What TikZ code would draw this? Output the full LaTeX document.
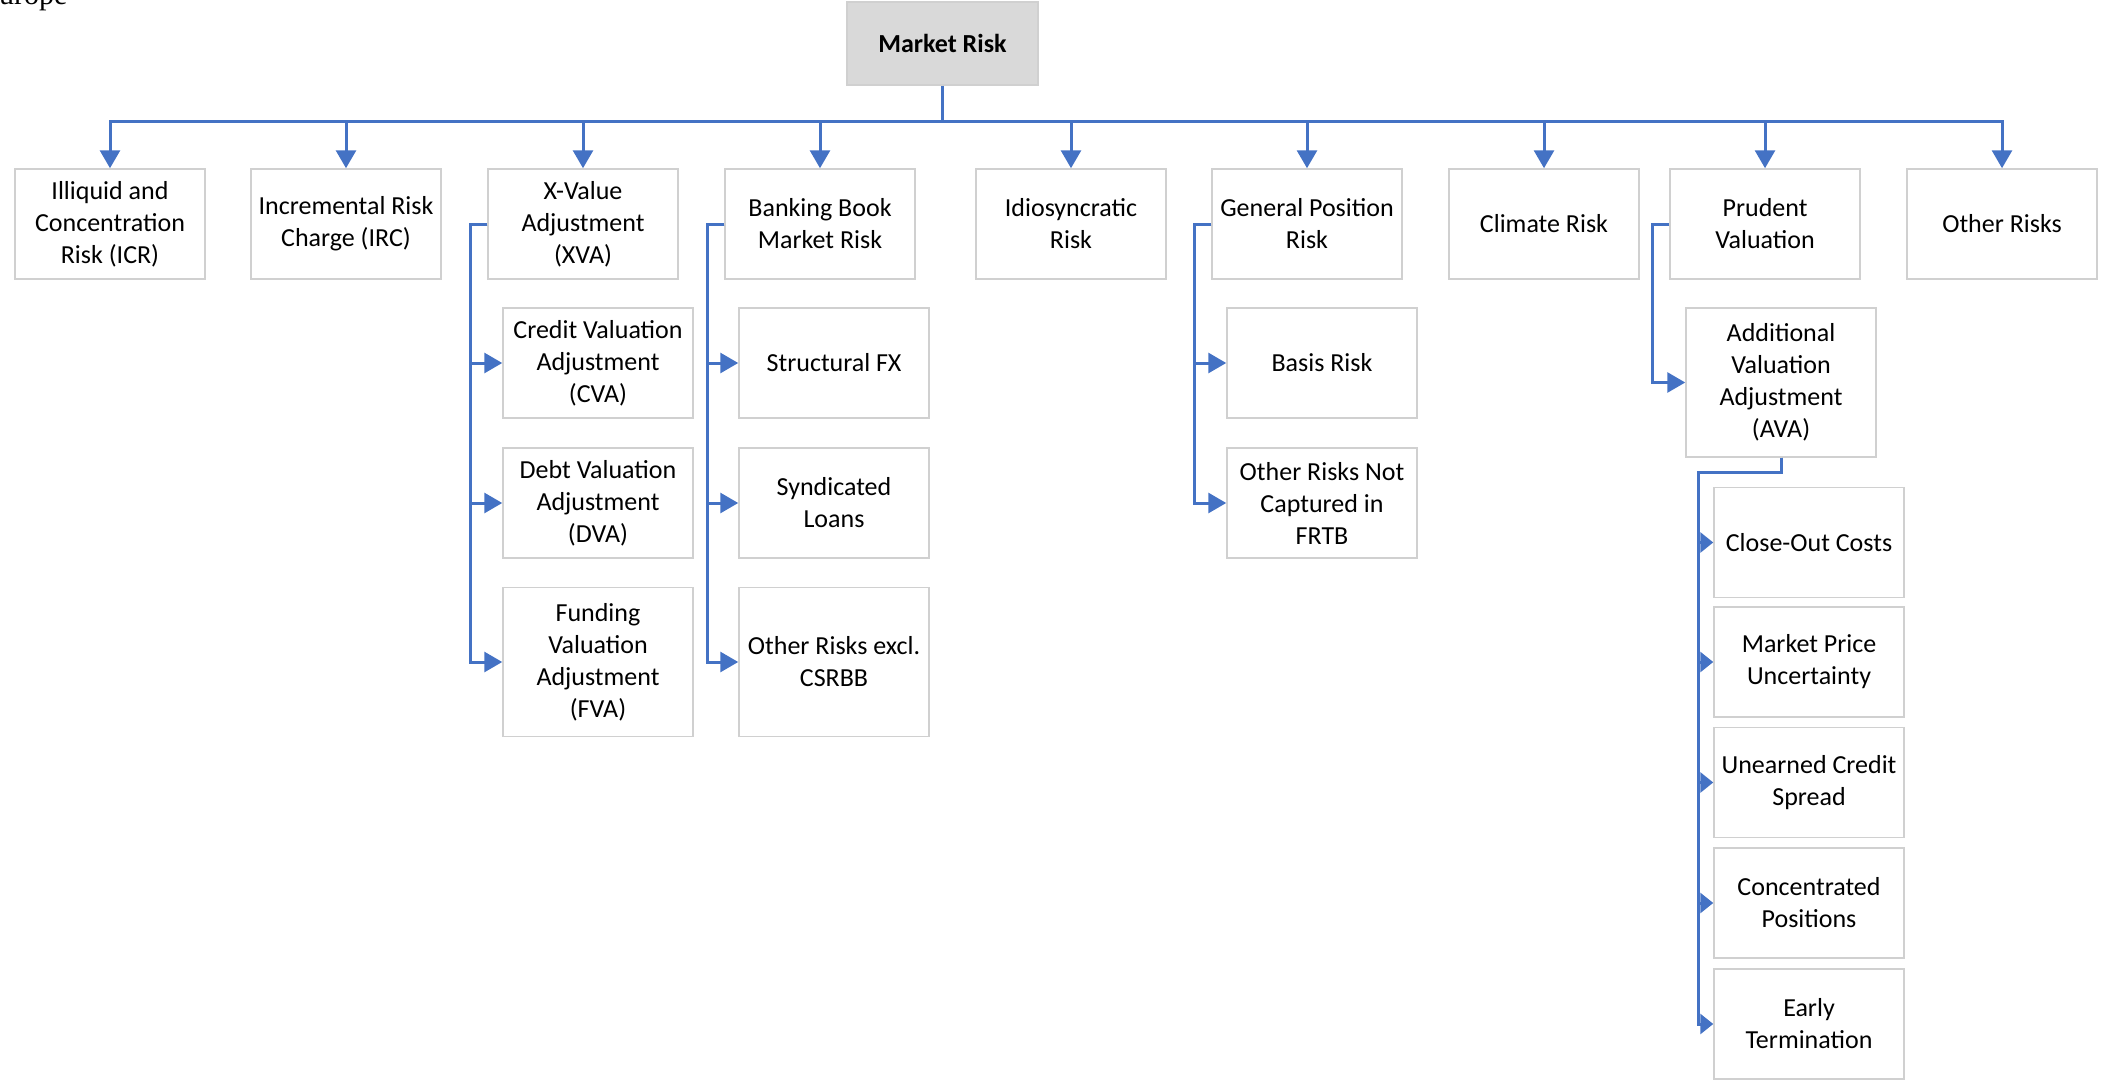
\documentclass[tikz,border=0pt]{standalone}
\usepackage{fontspec}
\setmainfont{Carlito}
\newfontfamily\capfont{Liberation Serif}
\usetikzlibrary{arrows.meta}

\definecolor{linkblue}{HTML}{4472C4}
\definecolor{boxline}{HTML}{D0D0D0}
\definecolor{rootfill}{HTML}{D9D9D9}

\begin{document}
\begin{tikzpicture}[x=1pt,y=-1pt,
  box/.style={shape=rectangle,draw=boxline,line width=1.5pt,minimum width=190pt,minimum height=110pt,inner sep=0pt,align=center,font=\fontsize{26}{32}\selectfont},
  tall/.style={box,minimum height=149pt},
  link/.style={draw=linkblue,line width=3pt},
  arr/.style={link,-{Triangle[width=20pt,length=18pt]}},
  arrs/.style={link,-{Triangle[width=20pt,length=13pt]}}]
\useasboundingbox (0,0) rectangle (2103,1081);

\node[font=\capfont\fontsize{30}{30}\selectfont,anchor=base west,inner sep=0pt] (cap) at (-1,5) {urope};

% root
\node[box,fill=rootfill,minimum width=191pt,minimum height=83pt,font=\bfseries\fontsize{26}{32}\selectfont] (root) at (942.5,43.5) {Market Risk};
\coordinate (bus) at (942.5,121);

% first level
\node[box] (icr) at (110,224) {Illiquid and\\Concentration\\Risk (ICR)};
\node[box] (irc) at (346,224) {Incremental Risk\\Charge (IRC)};
\node[box] (xva) at (583,224) {X-Value\\Adjustment\\(XVA)};
\node[box] (bbmr) at (820,224) {Banking Book\\Market Risk};
\node[box] (idio) at (1071,224) {Idiosyncratic\\Risk};
\node[box] (gpr) at (1307,224) {General Position\\Risk};
\node[box] (clim) at (1544,224) {Climate Risk};
\node[box] (pv) at (1765,224) {Prudent\\Valuation};
\node[box] (oth) at (2002,224) {Other Risks};

% XVA
\node[box] (cva) at (598,363) {Credit Valuation\\Adjustment\\(CVA)};
\node[box] (dva) at (598,503) {Debt Valuation\\Adjustment\\(DVA)};
\node[tall] (fva) at (598,662) {Funding\\Valuation\\Adjustment\\(FVA)};

% banking book
\node[box] (sfx) at (834,363) {Structural FX};
\node[box] (synd) at (834,503) {Syndicated\\Loans};
\node[tall] (orx) at (834,662) {Other Risks excl.\\CSRBB};

% general position
\node[box] (basis) at (1322,363) {Basis Risk};
\node[box] (ornc) at (1322,503) {Other Risks Not\\Captured in\\FRTB};

% prudent valuation
\node[tall] (ava) at (1781,382.5) {Additional\\Valuation\\Adjustment\\(AVA)};
\node[box] (coc) at (1809,542.5) {Close-Out Costs};
\node[box] (mpu) at (1809,662) {Market Price\\Uncertainty};
\node[box] (ucs) at (1809,782.5) {Unearned Credit\\Spread};
\node[box] (conc) at (1809,903) {Concentrated\\Positions};
\node[box] (et) at (1809,1024) {Early\\Termination};

\draw[link] (root) -- (bus);
\foreach \n in {icr,irc,xva,bbmr,idio,gpr,clim,pv,oth}
  \draw[arr] (bus) -| (\n);
\foreach \n in {cva,dva,fva}
  \draw[arr] (xva.west) -- ++(-17,0) |- (\n);
\foreach \n in {sfx,synd,orx}
  \draw[arr] (bbmr.west) -- ++(-17,0) |- (\n);
\foreach \n in {basis,ornc}
  \draw[arr] (gpr.west) -- ++(-17,0) |- (\n);
\draw[arr] (pv.west) -- ++(-17,0) |- (ava);
\foreach \n in {coc,mpu,ucs,conc,et}
  \draw[arrs] (ava.south) -- ++(0,15) -- ++(-83,0) |- (\n);
\end{tikzpicture}
\end{document}
